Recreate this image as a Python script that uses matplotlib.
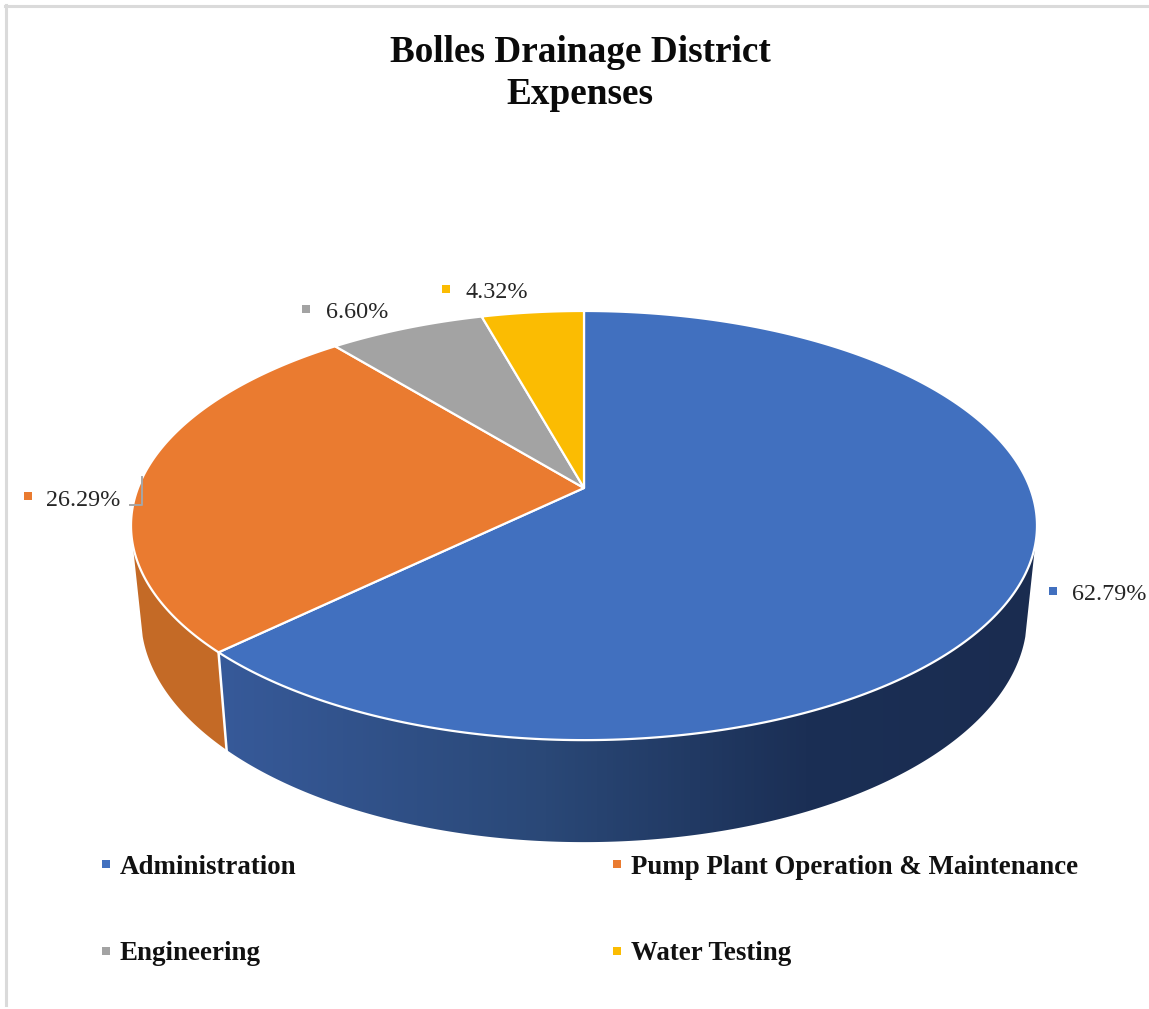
import numpy as np
import matplotlib
matplotlib.use("Agg")
import matplotlib.pyplot as plt
from matplotlib.patches import Polygon
from matplotlib.colors import LinearSegmentedColormap

categories = ["Administration", "Pump Plant Operation & Maintenance", "Engineering", "Water Testing"]
values = [62.79, 26.29, 6.60, 4.32]
labels = ["62.79%", "26.29%", "6.60%", "4.32%"]
colors = ["#4170BF", "#EA7B30", "#A3A3A3", "#FBBC02"]
title_lines = ["Bolles Drainage District", "Expenses"]

plt.rcParams["font.family"] = ["Liberation Serif", "DejaVu Serif"]
fig = plt.figure(figsize=(11.49, 10.09), dpi=100)
ax = fig.add_axes([0, 0, 1, 1])
ax.axis("off")

CX, CY, K, A, B = 584.0, 488.0, 0.175, 208.0, 446.0
def top(deg):
    t = np.radians(np.asarray(deg, float))
    u, v = np.sin(t), np.cos(t)
    d = 1 + K * v
    return CX + B * u / d, CY - A * v / d
def low(deg):
    x, y = top(deg)
    return CX + 0.978 * (x - CX), 842 + 1.05 * (y - 740)

edges = np.concatenate([[0], np.cumsum(values)]) * 360 / np.sum(values)

def side_poly(a0, a1):
    a = np.linspace(a0, a1, 300)
    xt, yt = top(a)
    xl, yl = low(a)
    return np.column_stack([np.r_[xt, xl[::-1]], np.r_[yt, yl[::-1]]])

blue_wall = Polygon(side_poly(105, edges[1]), closed=True, fc="none", ec="none")
ax.add_patch(blue_wall)
cmap = LinearSegmentedColormap.from_list("wall", [(0, "#375A9A"), (0.4, "#2A4877"), (0.72, "#1B2F55"), (1, "#1A2C50")])
im = ax.imshow(np.linspace(0, 1, 256)[None, :], extent=(215, 1037, 1009, 0), cmap=cmap, aspect="auto", zorder=1)
im.set_clip_path(blue_wall)

ax.add_patch(Polygon(side_poly(edges[1], 255), closed=True, fc="#C46A26", ec="none", zorder=1))
xa, ya = top(edges[1]); xb, yb = low(edges[1])
ax.plot([xa, xb], [ya, yb], color="white", lw=1.8, zorder=2)

for i, c in enumerate(colors):
    a = np.linspace(edges[i], edges[i + 1], 300)
    x, y = top(a)
    pts = np.column_stack([np.r_[CX, x], np.r_[CY, y]])
    ax.add_patch(Polygon(pts, closed=True, fc=c, ec="white", lw=1.6, zorder=3, joinstyle="round"))

lab_xy = [(1072, 595), (46, 501), (326, 313), (465, 293)]
mark_xy = [(1053, 591), (28, 496), (306, 309), (446, 289)]
for (tx, ty), (mx, my), s, c in zip(lab_xy, mark_xy, labels, colors):
    ax.text(tx, ty, s, fontsize=17.4, color="#262626", ha="left", va="center", zorder=5)
    ax.scatter([mx], [my], marker="s", s=30, color=c, linewidths=0, zorder=5)

ax.plot([142, 142, 130], [477, 505, 505], color="#A6A6A6", lw=1.4, zorder=4)

leg_xy = [(120, 867), (631, 867), (120, 954), (631, 954)]
for (tx, ty), s, c in zip(leg_xy, categories, colors):
    ax.text(tx, ty, s, fontsize=19.4, fontweight="bold", color="#111111", ha="left", va="center", zorder=5)
    ax.scatter([tx - 14], [ty - 3], marker="s", s=36, color=c, linewidths=0, zorder=5)

for y, s in zip([53, 95], title_lines):
    ax.text(580, y, s, fontsize=26.8, fontweight="bold", color="#0a0a0a", ha="center", va="center")

ax.plot([5.5, 5.5], [5, 1005], color="#DADADA", lw=2.2, zorder=0)
ax.plot([5, 1149], [5.5, 5.5], color="#DADADA", lw=2.2, zorder=0)

ax.set_xlim(0, 1149)
ax.set_ylim(1009, 0)
fig.savefig("out.png", dpi=100)
